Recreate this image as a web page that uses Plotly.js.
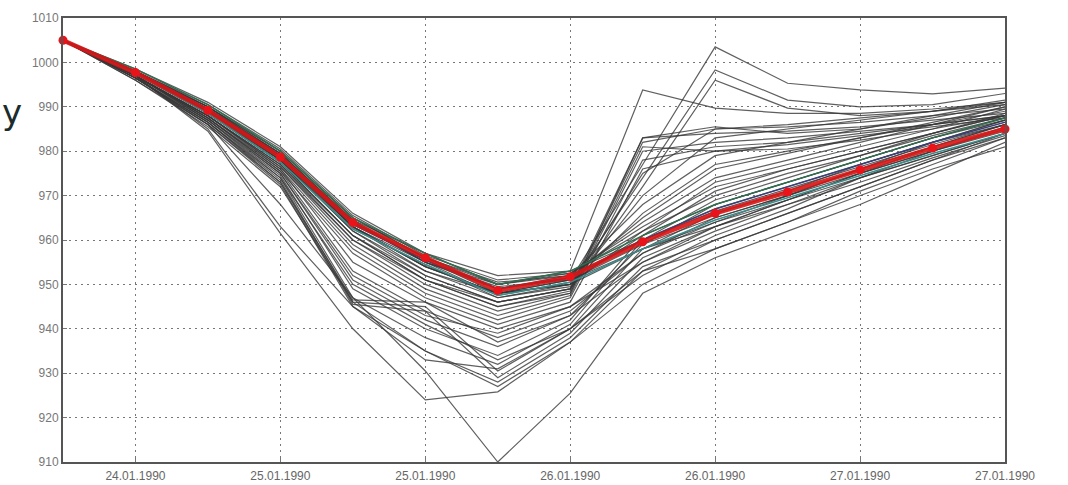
<!DOCTYPE html>
<html>
<head>
<meta charset="utf-8">
<script src="https://cdn.plot.ly/plotly-3.0.1.min.js"></script>
<style>html,body{margin:0;padding:0;background:#fff;}#chart{width:1068px;height:485px;}</style>
</head>
<body>
<div id="chart"></div>
<script>
// time step index (0..13)
const steps = [0,1,2,3,4,5,6,7,8,9,10,11,12,13];
const tickSteps = [1,3,5,7,9,11,13];
const tickLabels = ["24.01.1990","25.01.1990","25.01.1990","26.01.1990","26.01.1990","27.01.1990","27.01.1990"];
const yTicks = [910,920,930,940,950,960,970,980,990,1000,1010];

// ensemble mean (red)
const meanValues = [1005, 997.7, 989.2, 978.7, 963.9, 956, 948.6, 951.7, 959.6, 966, 970.8, 975.8, 980.7, 985];

// ensemble members (gray)
const c1  = [1005, 998, 990, 979, 963, 954, 948, 951, 977, 1003.5, 995.3, 993.8, 992.9, 994.2];
const c2  = [1005, 997.5, 989.5, 979.5, 964, 955, 950, 953, 993.8, 989.7, 988.5, 988.5, 989.5, 991];
const c3  = [1005, 998, 989, 978, 962, 953, 948, 950, 974, 998.3, 991.5, 990, 990.5, 993];
const c4  = [1005, 997.5, 988.5, 977.5, 961, 951, 946, 949, 972, 996, 989.7, 988, 989, 991.5];
const u1  = [1005, 998, 990, 980, 965, 956, 950, 952, 968, 979, 982, 985, 988, 991];
const u2  = [1005, 998, 989.5, 979, 964, 955, 949, 951.5, 965, 976, 979.5, 983, 986.5, 990];
const u3  = [1005, 997.5, 989, 978.5, 963, 954, 948, 950, 962, 973, 977, 981, 985, 989.5];
const u4  = [1005, 997, 988, 977, 961, 952, 946, 949, 983, 985.5, 984, 985, 987.5, 990.5];
const u5  = [1005, 997, 988, 976.5, 960, 951, 945, 948, 981, 980, 980.5, 982.5, 985, 988];
const m1  = [1005, 998.5, 991, 981, 966, 957, 952, 953, 960, 967, 972, 977, 982, 987];
const m2  = [1005, 998, 990.5, 980.5, 965.5, 956.5, 951, 952.5, 962, 970, 975, 979, 984, 988];
const m3  = [1005, 998, 990, 980, 965, 956, 950.5, 952, 964, 974, 978, 982, 986, 990];
const m4  = [1005, 998, 989.5, 979.5, 964.5, 955, 949.5, 951, 958, 964, 969, 974, 979, 984];
const m5  = [1005, 997.5, 989, 979, 963, 954, 948, 950, 966, 977, 980, 983, 986, 989];
const m6  = [1005, 997.5, 989, 978.5, 963, 953, 947, 949.5, 970, 983, 985, 987, 989, 991];
const m7  = [1005, 997.5, 988.5, 978, 962, 952, 946, 949, 975, 985, 986, 987.5, 989, 990.5];
const m8  = [1005, 997.5, 988.5, 977.5, 961, 951, 945, 948.5, 982, 985, 985.5, 986.5, 988, 989.5];
const m9  = [1005, 997, 988, 977, 960, 950, 944, 948, 983, 984, 984.5, 985.5, 987, 988.5];
const m10 = [1005, 997, 988, 976.5, 959, 949, 943, 947.5, 980, 982, 983, 984.5, 986, 988];
const m11 = [1005, 997, 987.5, 976, 958, 948, 942, 947, 978, 981, 982, 984, 986, 988];
const m12 = [1005, 997, 987.5, 975.5, 957, 947, 941, 946, 976, 980, 981.5, 983.5, 985.5, 987.5];
const m13 = [1005, 998, 989.5, 979, 964, 956, 949, 952, 960, 966.5, 971.5, 976.5, 981.5, 986];
const m14 = [1005, 998, 989, 978.5, 963.5, 955.5, 948, 951, 959, 965, 970, 975, 980, 984.5];
const m15 = [1005, 997.5, 989, 978, 963, 955, 947.5, 950.5, 961, 968, 973, 978, 983, 987.5];
const m16 = [1005, 997.5, 988.5, 978, 962.5, 954.5, 947, 950, 958, 963, 968, 973, 978.5, 983.5];
const m17 = [1005, 998, 990, 979.5, 964.5, 957, 950, 952.5, 963, 972, 976, 980, 984, 988.5];
const l1  = [1005, 997, 988, 976, 955, 946, 940, 945, 955, 962, 968, 974, 979, 984];
const l2  = [1005, 997, 987.5, 975.5, 953, 944, 938, 944, 957, 965, 970, 976, 981, 986];
const l3  = [1005, 997, 987, 975, 951, 942, 936, 943, 959, 968, 973, 978, 983, 987];
const l4  = [1005, 996.5, 987, 974.5, 949, 940, 934, 942, 961, 971, 976, 980, 984, 988];
const l5  = [1005, 996.5, 986.5, 974, 947, 938, 932, 941, 960, 969, 974, 979, 983.5, 987.5];
const l6  = [1005, 996.5, 986.5, 973.5, 946, 945, 930.5, 940, 958, 966, 971, 977, 982, 986];
const l7  = [1005, 996.5, 986, 973, 945.5, 944, 929, 939, 956, 963, 969, 975, 980, 985];
const l8  = [1005, 996, 986, 972.5, 945, 935, 928, 938, 954, 960, 966, 972, 978, 983];
const l9  = [1005, 996, 985.5, 972, 946, 935, 927, 937, 953, 958, 964, 970, 976, 981];
const l10 = [1005, 996.5, 986, 968, 947, 930.5, 910, 925.5, 948, 956, 962, 968, 975, 982];
const l11 = [1005, 997, 984.5, 961.5, 940, 924, 925.8, 937, 950, 958, 964, 971, 977, 983];
const l12 = [1005, 997, 985, 963, 945, 933, 931, 940, 952, 960, 966, 972, 978, 984];
const l13 = [1005, 996.5, 986.5, 973, 946.5, 946, 937, 943, 955, 963, 969, 975, 981, 986];
const l14 = [1005, 997, 987, 974, 950, 941, 933, 940, 953, 961, 967, 974, 980, 985.5];
const l15 = [1005, 997, 987.5, 975, 952, 943, 939, 945, 957, 964, 970, 976, 982, 987];

// coloured members near the mean
const green1 = [1005, 998.5, 990.5, 980, 965, 957, 950, 953, 961, 968, 973, 978, 983, 987.5];
const teal1  = [1005, 997.5, 988.5, 977.5, 962.5, 954.5, 947.5, 950.5, 958, 964.5, 969.5, 974.5, 979.5, 984];
const navy1  = [1005, 998, 989.5, 979, 963.5, 955.5, 949, 951.5, 960, 967, 972, 977, 982, 986.5];

const grayMembers = [c1,c2,c3,c4,u1,u2,u3,u4,u5,m1,m2,m3,m4,m5,m6,m7,m8,m9,m10,m11,m12,m13,m14,m15,m16,m17,
  l1,l2,l3,l4,l5,l6,l7,l8,l9,l10,l11,l12,l13,l14,l15];
const colouredMembers = [[green1,'#2f6e50'],[teal1,'#3a8c8c'],[navy1,'#3b3f78']];

const traces = [];
grayMembers.forEach(v => traces.push({
  x: steps, y: v, type: 'scatter', mode: 'lines',
  line: {color: 'rgba(55,55,55,0.8)', width: 1.2}, hoverinfo: 'skip', showlegend: false
}));
colouredMembers.forEach(([v,c]) => traces.push({
  x: steps, y: v, type: 'scatter', mode: 'lines',
  line: {color: c, width: 1.5}, hoverinfo: 'skip', showlegend: false
}));
traces.push({
  x: steps, y: meanValues, type: 'scatter', mode: 'lines+markers',
  line: {color: 'rgba(215,20,20,0.9)', width: 4.5},
  marker: {color: '#e8141a', size: 9, symbol: 'circle'},
  hoverinfo: 'skip', showlegend: false, cliponaxis: false
});

const layout = {
  width: 1068, height: 485,
  margin: {l: 63, r: 63, t: 18, b: 23},
  paper_bgcolor: '#ffffff', plot_bgcolor: '#ffffff',
  font: {family: 'Liberation Sans, Arial, sans-serif', size: 12, color: '#666'},
  showlegend: false,
  xaxis: {
    range: [0, 13], tickvals: tickSteps, ticktext: tickLabels,
    showgrid: true, gridcolor: '#777', griddash: '2px,4px', gridwidth: 1,
    showline: true, linecolor: '#555', linewidth: 2, mirror: true,
    ticks: 'inside', ticklen: 4, tickcolor: '#777',
    zeroline: false, tickfont: {size: 12, color: '#666'}, ticklabelstandoff: 2
  },
  yaxis: {
    range: [910, 1010], tickvals: yTicks,
    showgrid: true, gridcolor: '#777', griddash: '2px,4px', gridwidth: 1,
    showline: true, linecolor: '#555', linewidth: 2, mirror: true,
    ticks: 'inside', ticklen: 4, tickcolor: '#777',
    zeroline: false, tickfont: {size: 12, color: '#777'}
  },
  annotations: [{
    text: 'y', xref: 'paper', yref: 'paper', x: (0 - 63) / 942, y: (462 - 112) / 444,
    xanchor: 'left', yanchor: 'middle', showarrow: false,
    font: {size: 34, color: '#1c2b2b', family: 'DejaVu Sans, sans-serif'}
  }]
};

Plotly.newPlot('chart', traces, layout, {staticPlot: true, displayModeBar: false});
</script>
</body>
</html>
